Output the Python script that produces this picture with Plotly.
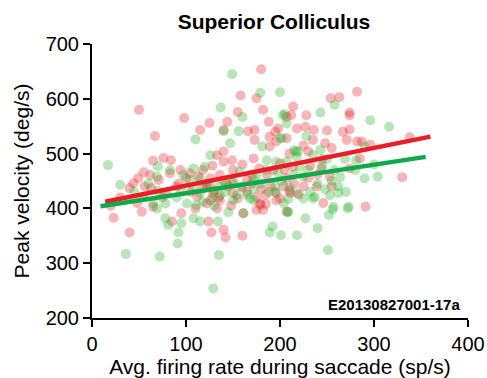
import plotly.graph_objects as go

# Red group (firing rate sp/s, peak velocity deg/s)
red_x = [50, 98, 67, 65, 76, 84, 55,
         180, 158, 175, 155, 182, 125, 115, 144, 140, 166, 173, 188, 198, 195, 214, 218,
         133, 149, 140, 172, 189, 196, 207,
         49, 44, 40, 62, 56, 94, 104, 113, 126, 136, 83, 71, 63, 79, 90, 122, 129, 136, 122,
         186, 193, 200, 214, 207, 165, 150, 179, 196, 211,
         254, 263, 282, 274, 274, 228, 207, 236, 250, 267, 274, 271, 282, 296, 338, 248, 255, 230,
         235, 285, 244, 253, 239, 255, 274, 330, 291, 204, 173, 189, 212, 227, 287,
         23, 40, 53, 95, 127, 140, 142, 160, 124, 85, 182, 161, 133, 207, 175, 246, 179, 126, 65,
         105, 112, 118, 125, 130, 135, 140, 145, 150, 155, 160, 165, 170, 175, 180, 185, 190, 195,
         200, 210, 215, 220, 110, 148, 185, 225, 230, 240, 232, 245, 150, 160, 170, 178, 205, 210,
         225, 140, 128, 118, 100, 92, 75, 48, 30, 20]
red_y = [580, 565, 532, 487, 492, 488, 466,
         654, 606, 601, 576, 580, 556, 543, 558, 543, 541, 543, 558, 546, 540, 586, 546,
         497, 488, 504, 491, 513, 522, 528,
         455, 446, 437, 461, 440, 470, 464, 458, 455, 461, 464, 452, 437, 428, 440, 440, 428, 415, 409,
         461, 470, 482, 476, 455, 452, 446, 409, 415, 428,
         601, 603, 613, 575, 570, 570, 567, 543, 542, 540, 544, 525, 522, 516, 530, 519, 510, 504,
         525, 491, 473, 458, 440, 440, 473, 457, 403, 440, 525, 531, 570, 549, 522,
         383, 356, 394, 391, 356, 361, 347, 350, 376, 376, 397, 391, 400, 394, 397, 410, 406, 415, 403,
         430, 422, 438, 445, 432, 420, 450, 440, 428, 418, 438, 430, 445, 420, 435, 425, 440, 430,
         418, 432, 445, 425, 400, 405, 408, 440, 455, 462, 478, 490, 470, 480, 462, 473, 470, 500,
         515, 485, 478, 470, 455, 445, 420, 410, 420, 405]

# Green group
green_x = [149, 179, 200, 137, 160, 203, 110, 140, 147, 156, 126, 181, 200, 217,
           17, 30, 70, 83, 108, 120, 97, 104, 115, 69, 186, 196, 207, 157, 172, 143, 154, 168, 136,
           101, 111, 78, 196, 209,
           258, 243, 205, 296, 316, 207, 228, 202, 243, 269, 290, 281, 219, 264, 304, 273, 257, 253,
           262, 237, 218, 221, 225, 204,
           36, 72, 91, 92, 135, 129, 95, 81, 78, 108, 115, 145, 161, 192, 189, 201, 218, 172, 209, 69,
           227, 240, 251, 252, 256, 272, 235, 208, 134, 65,
           108, 115, 122, 128, 135, 142, 150, 158, 165, 172, 180, 188, 195, 202, 210, 218, 225, 232,
           240, 248, 255, 262, 270, 150, 130, 118, 175, 185, 198, 215, 230, 245, 258, 280, 290, 300,
           235, 250, 45, 55, 60, 70, 90, 95, 215]
green_y = [645, 611, 612, 584, 567, 570, 526, 541, 519, 541, 497, 513, 528, 504,
           479, 443, 477, 470, 473, 476, 461, 452, 455, 458, 488, 485, 485, 467, 452, 446, 424, 418, 424,
           409, 406, 409, 428, 418,
           589, 575, 572, 561, 549, 555, 532, 528, 507, 490, 513, 488, 504, 457, 458, 403, 403, 424,
           428, 421, 494, 476, 458, 409,
           317, 312, 336, 356, 315, 254, 373, 370, 382, 382, 376, 393, 391, 367, 356, 351, 351, 415, 394, 400,
           382, 364, 324, 388, 398, 400, 418, 393, 376, 409,
           438, 428, 445, 420, 440, 430, 450, 440, 425, 435, 445, 430, 440, 450, 438, 428, 418, 430,
           445, 435, 450, 440, 430, 415, 405, 412, 460, 470, 465, 462, 470, 478, 470, 470, 455, 480,
           498, 490, 430, 420, 445, 432, 420, 432, 506]

# Regression line endpoints
red_fit_x = [14, 360]
red_fit_y = [412, 531]
green_fit_x = [9, 355]
green_fit_y = [404, 494]

FONT = "Arial, Liberation Sans, sans-serif"

fig = go.Figure()
fig.add_trace(go.Scatter(x=red_x, y=red_y, mode="markers",
                         marker=dict(size=10, color="rgb(232,30,40)", opacity=0.33, line=dict(width=0)),
                         showlegend=False, cliponaxis=False))
fig.add_trace(go.Scatter(x=green_x, y=green_y, mode="markers",
                         marker=dict(size=10, color="rgb(40,180,40)", opacity=0.33, line=dict(width=0)),
                         showlegend=False, cliponaxis=False))
fig.add_trace(go.Scatter(x=red_fit_x, y=red_fit_y, mode="lines",
                         line=dict(color="#ec1c24", width=4.5), showlegend=False))
fig.add_trace(go.Scatter(x=green_fit_x, y=green_fit_y, mode="lines",
                         line=dict(color="#0fa84a", width=4.5), showlegend=False))

fig.update_layout(
    width=487, height=378,
    margin=dict(l=92, r=19, t=44, b=60),
    paper_bgcolor="white", plot_bgcolor="white",
    font=dict(family=FONT, color="black"),
    title=dict(text="<b>Superior Colliculus</b>", font=dict(size=21, family=FONT),
               x=0.484, xref="paper", xanchor="center", y=0.944, yref="container", yanchor="middle"),
    xaxis=dict(range=[0, 400], tickvals=[0, 100, 200, 300, 400], showgrid=False, zeroline=False,
               showline=True, linecolor="black", linewidth=2, ticks="outside", ticklen=7,
               tickwidth=2, tickcolor="black", tickfont=dict(size=20), automargin=False,
               title=dict(text="Avg. firing rate during saccade (sp/s)", font=dict(size=21), standoff=2)),
    yaxis=dict(range=[200, 700], tickvals=[200, 300, 400, 500, 600, 700], showgrid=False, zeroline=False,
               showline=True, linecolor="black", linewidth=2, ticks="outside", ticklen=7,
               tickwidth=2, tickcolor="black", tickfont=dict(size=20), automargin=False,
               title=dict(text="Peak velocity (deg/s)", font=dict(size=21), standoff=10)),
    annotations=[dict(text="<b>E20130827001-17a</b>", x=0.985, y=0.012, xref="paper", yref="paper",
                      xanchor="right", yanchor="bottom", showarrow=False, font=dict(size=15, family=FONT))],
)

fig.write_html("out.html")
